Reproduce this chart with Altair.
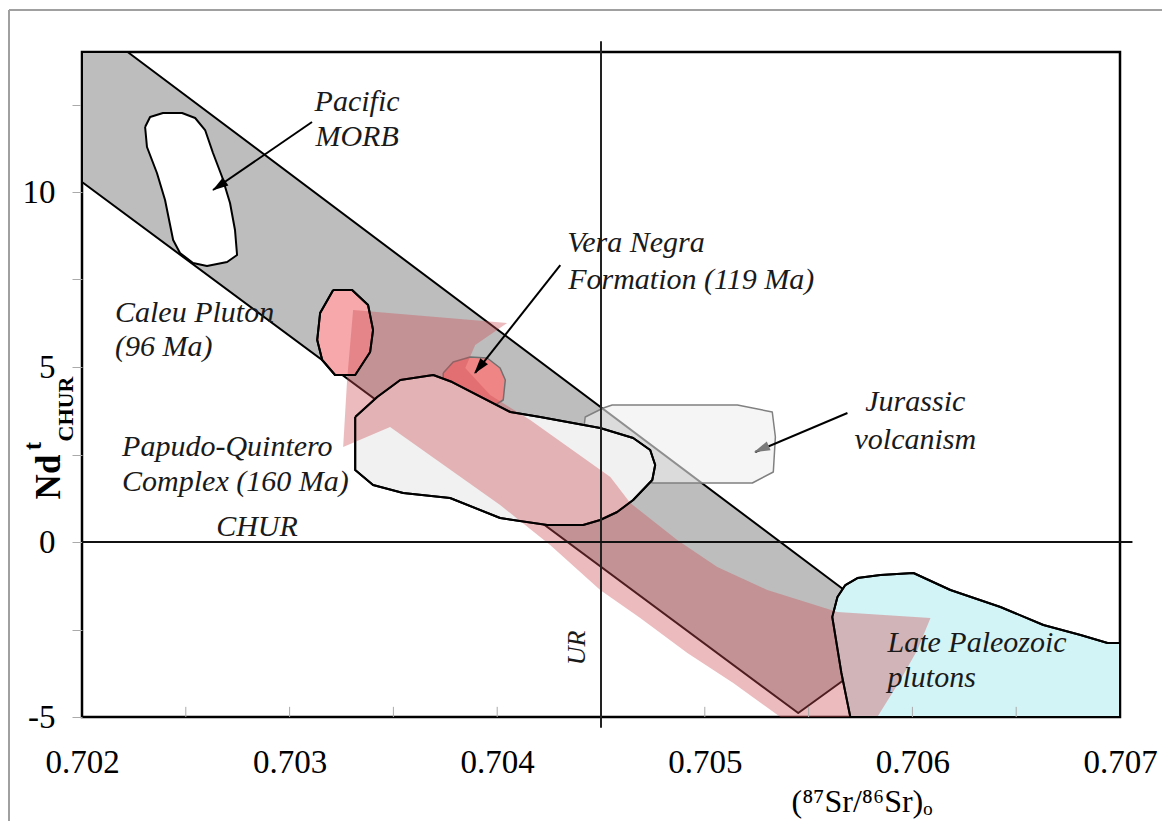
import altair as alt
import pandas as pd

# ---------------- axes ----------------
X_DOMAIN = [0.702, 0.707]
Y_DOMAIN = [-5, 14]
x_label_values = [0.702, 0.703, 0.704, 0.705, 0.706, 0.707]
y_tick_values = [-5, -2.5, 0, 2.5, 5, 7.5, 10, 12.5]
inner_x_ticks = [0.7025, 0.703, 0.7035, 0.704, 0.705, 0.7055, 0.706, 0.7065]

# ---------------- fields (87Sr/86Sr, eNd) ----------------
band_x = [0.702, 0.70222, 0.70580, 0.705663, 0.70545, 0.702]
band_y = [14.0, 14.0, -1.943, -3.971, -4.886, 10.286]

pink_x = [0.703306, 0.704048, 0.703894, 0.703846, 0.703966, 0.704159, 0.704545, 0.704641,
          0.704867, 0.705060, 0.705301, 0.705639, 0.706087, 0.706024, 0.705942, 0.705831,
          0.705364, 0.705137, 0.704916, 0.704689, 0.704496, 0.704255, 0.704014, 0.703484,
          0.703258, 0.703277]
pink_y = [6.629, 6.257, 5.629, 4.971, 4.2, 3.486, 1.857, 1.114,
          0.057, -0.714, -1.371, -2.0, -2.171, -3.086, -3.943, -5.0,
          -5.0, -4.029, -3.171, -2.171, -1.371, -0.086, 1.057, 3.286,
          2.714, 4.629]

papudo_x = [0.703316, 0.703422, 0.703533, 0.703692, 0.703783, 0.704063, 0.704207, 0.704496,
            0.704655, 0.704737, 0.704761, 0.704747, 0.704655, 0.704578, 0.704496, 0.704414,
            0.704241, 0.704014, 0.703773, 0.703547, 0.703402, 0.703316]
papudo_y = [3.571, 4.143, 4.629, 4.771, 4.571, 3.714, 3.571, 3.257,
            2.971, 2.629, 2.2, 1.771, 1.2, 0.857, 0.629, 0.486,
            0.486, 0.686, 1.257, 1.4, 1.629, 2.057]

caleu_x = [0.703210, 0.703301, 0.703378, 0.703402, 0.703388, 0.703316, 0.703219, 0.703157,
           0.703133, 0.703147]
caleu_y = [7.2, 7.2, 6.771, 6.057, 5.429, 4.771, 4.771, 5.2, 5.771, 6.543]

vera_x = [0.703740, 0.703788, 0.703870, 0.703952, 0.704014, 0.704039, 0.704029, 0.703966,
          0.703822, 0.703740]
vera_y = [4.829, 5.143, 5.286, 5.257, 4.971, 4.629, 4.057, 3.829, 4.2, 4.486]

jurassic_x = [0.704410, 0.704424, 0.704511, 0.704554, 0.705157, 0.705325, 0.705340, 0.705330,
              0.705229, 0.704752, 0.704650]
jurassic_y = [2.914, 3.571, 3.829, 3.914, 3.914, 3.714, 3.0, 2.0, 1.686, 1.686, 1.8]

paleozoic_x = [0.705701, 0.705658, 0.705614, 0.705639, 0.705677, 0.705735, 0.705846, 0.706005,
               0.706183, 0.706424, 0.706631, 0.706810, 0.706940, 0.707, 0.707]
paleozoic_y = [-5.0, -3.743, -2.143, -1.571, -1.229, -1.029, -0.943, -0.886,
               -1.371, -1.857, -2.371, -2.657, -2.886, -2.886, -5.0]

morb_x = [0.702304, 0.702328, 0.702390, 0.702482, 0.702545, 0.702593, 0.702631, 0.702675,
          0.702713, 0.702737, 0.702747, 0.702699, 0.702602, 0.702535, 0.702472, 0.702439,
          0.702400, 0.702361, 0.702313]
morb_y = [11.857, 12.143, 12.257, 12.257, 12.114, 11.771, 11.114, 10.429,
          9.686, 8.914, 8.2, 8.0, 7.886, 7.971, 8.257, 8.629,
          9.771, 10.543, 11.286]

# reference lines
ur_value = 0.7045
ur_extent = [-5.31, 14.31]
chur_value = 0.0
chur_extent = [0.702, 0.70706]

# arrows
arrow_x1 = [0.703108, 0.704304, 0.705687]
arrow_y1 = [12.0, 7.914, 3.686]
arrow_x2 = [0.702631, 0.703894, 0.705243]
arrow_y2 = [10.057, 4.829, 2.571]
head_x = [0.702660, 0.703913, 0.705272]
head_y = [10.171, 4.986, 2.657]
head_angle = [235.5, 218.2, 247.0]
head_color = ["#000000", "#000000", "#7a7a7a"]

# labels
label_text = ["Pacific", "MORB", "Vera Negra", "Formation (119 Ma)", "Caleu Pluton", "(96 Ma)",
              "Papudo-Quintero", "Complex (160 Ma)", "CHUR", "Jurassic", "volcanism",
              "Late Paleozoic", "plutons"]
label_x = [0.703325, 0.703325, 0.704337, 0.704342, 0.702159, 0.702159,
           0.702193, 0.702193, 0.702843, 0.706014, 0.706014,
           0.705880, 0.705880]
label_y = [12.571, 11.571, 8.543, 7.486, 6.543, 5.571,
           2.714, 1.714, 0.429, 4.0, 2.914,
           -2.886, -3.886]
label_align = ["center", "center", "left", "left", "left", "left",
               "left", "left", "center", "center", "center",
               "left", "left"]
ur_label = ["UR"]
ur_label_x = [0.704386]
ur_label_y = [-3.029]

FONT = "Liberation Serif"

xs = alt.Scale(domain=X_DOMAIN, nice=False, zero=False)
ys = alt.Scale(domain=Y_DOMAIN, nice=False, zero=False)
x_axis = alt.Axis(values=x_label_values, format=".3f", ticks=False, domain=False, grid=False,
                  labelFont=FONT, labelFontSize=33, labelColor="black", labelPadding=29,
                  labelFlush=False)
y_axis = alt.Axis(values=y_tick_values,
                  labelExpr="datum.value % 5 == 0 ? '' + datum.value : ''",
                  tickColor="#aaaaaa", tickSize=10, tickWidth=1, domain=False, grid=False,
                  labelFont=FONT, labelFontSize=33, labelColor="black", labelPadding=17)


def X(f):
    return alt.X(f, type="quantitative", scale=xs, axis=x_axis, title=None)


def Y(f):
    return alt.Y(f, type="quantitative", scale=ys, axis=y_axis, title=None)


def polygon(xv, yv, fill, fill_opacity=1.0, stroke="black", stroke_width=2.0, stroke_opacity=1.0):
    n = len(xv)
    df = pd.DataFrame({"x": list(xv) + [xv[0]], "y": list(yv) + [yv[0]], "i": list(range(n + 1))})
    return alt.Chart(df).mark_line(
        fill=fill, fillOpacity=fill_opacity, stroke=stroke, strokeWidth=stroke_width,
        strokeOpacity=stroke_opacity, strokeJoin="round", interpolate="linear"
    ).encode(x=X("x"), y=Y("y"), order=alt.Order("i:Q"))


layers = []
layers.append(polygon(band_x, band_y, "#bdbdbd"))
layers.append(polygon(paleozoic_x, paleozoic_y, "#d3f4f6"))
layers.append(polygon(jurassic_x, jurassic_y, "#efefef", fill_opacity=0.6, stroke="#808080", stroke_width=1.5))
layers.append(polygon(vera_x, vera_y, "#ef8585", stroke="#707070", stroke_width=1.5))
layers.append(polygon(papudo_x, papudo_y, "#f1f1f1"))
layers.append(polygon(caleu_x, caleu_y, "#f6a8aa"))
layers.append(polygon(morb_x, morb_y, "#ffffff"))
layers.append(polygon(pink_x, pink_y, "#cd4b55", fill_opacity=0.38, stroke="#cd4b55",
                      stroke_width=0.1, stroke_opacity=0.0))
# crisp outlines above the translucent field
layers.append(polygon(paleozoic_x, paleozoic_y, "transparent"))
layers.append(polygon(papudo_x, papudo_y, "transparent"))
layers.append(polygon(caleu_x, caleu_y, "transparent"))

# inner ticks on the x axis
tick_df = pd.DataFrame({"x": inner_x_ticks, "y": [-5.0] * len(inner_x_ticks),
                        "y2": [-4.71] * len(inner_x_ticks)})
layers.append(alt.Chart(tick_df).mark_rule(color="#aaaaaa", strokeWidth=1).encode(
    x=X("x"), y=Y("y"), y2="y2"))

# UR and CHUR lines
ur_df = pd.DataFrame({"x": [ur_value], "y": [ur_extent[0]], "y2": [ur_extent[1]]})
layers.append(alt.Chart(ur_df).mark_rule(color="#222222", strokeWidth=2).encode(
    x=X("x"), y=Y("y"), y2="y2"))
chur_df = pd.DataFrame({"x": [chur_extent[0]], "x2": [chur_extent[1]], "y": [chur_value]})
layers.append(alt.Chart(chur_df).mark_rule(color="#111111", strokeWidth=2).encode(
    x=X("x"), x2="x2", y=Y("y")))

# arrows
arr_df = pd.DataFrame({"x": arrow_x1, "y": arrow_y1, "x2": arrow_x2, "y2": arrow_y2})
layers.append(alt.Chart(arr_df).mark_rule(color="black", strokeWidth=2).encode(
    x=X("x"), y=Y("y"), x2="x2", y2="y2"))
head_df = pd.DataFrame({"x": head_x, "y": head_y, "a": head_angle, "c": head_color})
layers.append(alt.Chart(head_df).mark_point(
    shape="M0,-1L0.6,1L-0.6,1Z", filled=True, size=260, opacity=1, strokeWidth=0
).encode(x=X("x"), y=Y("y"), angle=alt.Angle("a:Q", scale=None),
         color=alt.Color("c:N", scale=None)))

# labels
for t, lx, ly, la in zip(label_text, label_x, label_y, label_align):
    df = pd.DataFrame({"x": [lx], "y": [ly], "t": [t]})
    layers.append(alt.Chart(df).mark_text(
        font=FONT, fontSize=30, fontStyle="italic", color="#1a1a1a", align=la, baseline="middle"
    ).encode(x=X("x"), y=Y("y"), text="t:N"))

ur_df2 = pd.DataFrame({"x": ur_label_x, "y": ur_label_y, "t": ur_label})
layers.append(alt.Chart(ur_df2).mark_text(
    font=FONT, fontSize=26, fontStyle="italic", color="#1a1a1a", angle=270, align="center",
    baseline="middle").encode(x=X("x"), y=Y("y"), text="t:N"))

# axis titles built from text pieces
one = pd.DataFrame({"a": [0]})
layers.append(alt.Chart(one).mark_text(font=FONT, fontSize=35, fontWeight="bold", angle=270,
                                       align="center", baseline="middle", color="black", text="Nd"
                                       ).encode(x=alt.value(-33), y=alt.value(425)))
layers.append(alt.Chart(one).mark_text(font=FONT, fontSize=25, fontWeight="bold", angle=270,
                                       align="center", baseline="middle", color="black", text="t"
                                       ).encode(x=alt.value(-49), y=alt.value(394)))
layers.append(alt.Chart(one).mark_text(font=FONT, fontSize=22, fontWeight="bold", angle=270,
                                       align="center", baseline="middle", color="black", text="CHUR"
                                       ).encode(x=alt.value(-16), y=alt.value(357)))
layers.append(alt.Chart(one).mark_text(font=FONT, fontSize=32, align="center", baseline="middle",
                                       color="black", text="(⁸⁷Sr/⁸⁶Sr)ₒ"
                                       ).encode(x=alt.value(780), y=alt.value(750)))

# outer picture frame
layers.append(alt.Chart(one).mark_rule(color="#a0a0a0", strokeWidth=2).encode(
    x=alt.value(-73), x2=alt.value(1080), y=alt.value(-42)))
layers.append(alt.Chart(one).mark_rule(color="#a0a0a0", strokeWidth=2).encode(
    x=alt.value(-73), y=alt.value(-42), y2=alt.value(775)))

chart = alt.layer(*layers).properties(
    width=1038, height=665,
    autosize=alt.AutoSizeParams(type="none"),
    padding={"left": 74, "top": 44, "right": 42, "bottom": 104},
    background="white",
).configure_view(stroke="black", strokeWidth=2.5)

chart.save("out.html", embed_options={"renderer": "svg", "actions": False})
